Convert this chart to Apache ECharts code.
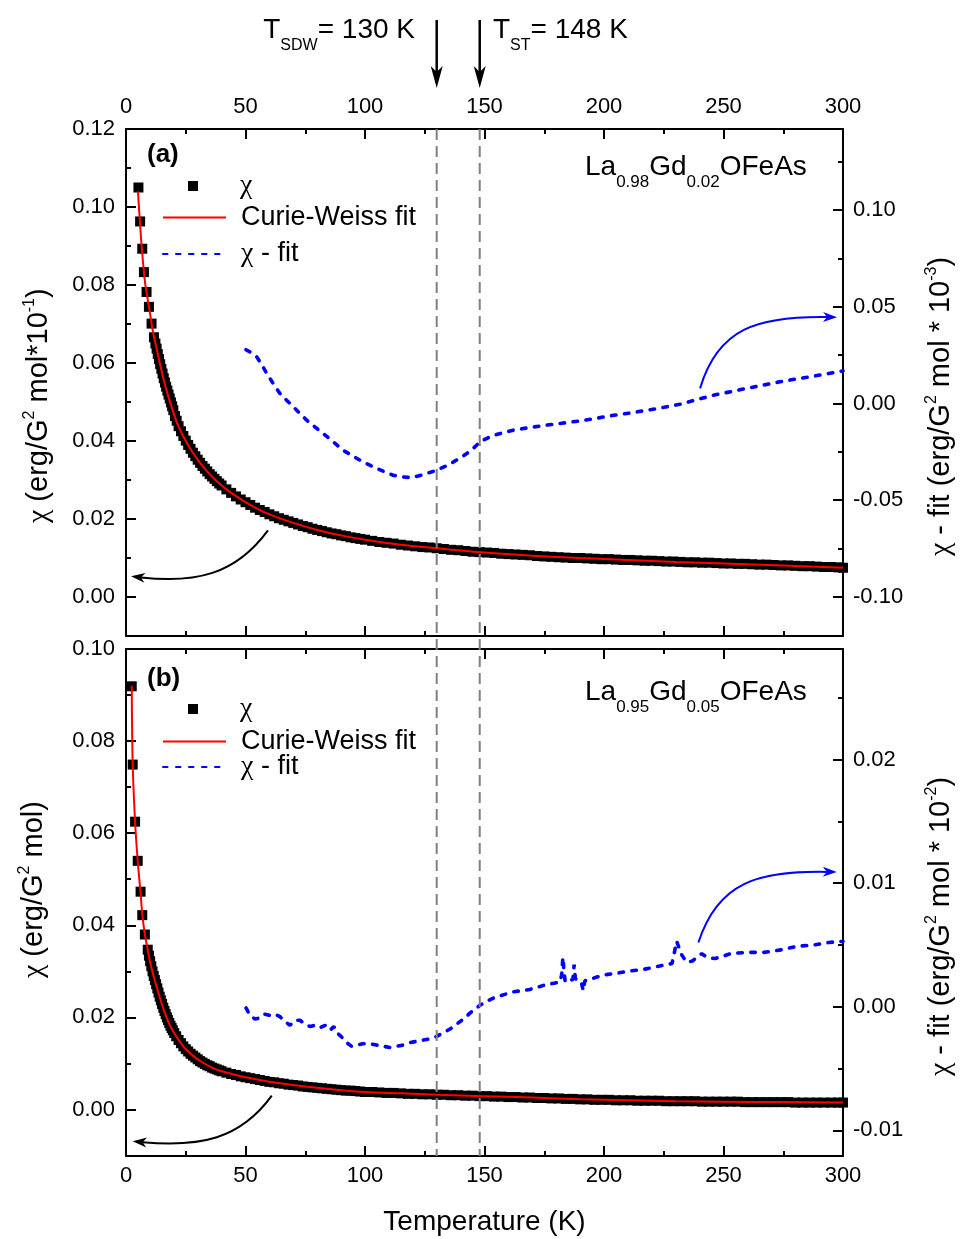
<!DOCTYPE html>
<html><head><meta charset="utf-8">
<script src="https://cdn.jsdelivr.net/npm/echarts@6/dist/echarts.min.js"></script>
<style>html,body{margin:0;padding:0;background:#fff}#c{width:961px;height:1239px}</style>
</head><body><div id="c"></div>
<script>
const FONT = '"Liberation Sans", Arial, Helvetica, sans-serif';
const CHI_FONT = '"Liberation Serif", "Times New Roman", serif';

// ---------------- data ----------------
const transitions = [130, 148];              // T_SDW, T_ST (K)
const xRange = [0, 300];

// panel (a): La0.98Gd0.02OFeAs
const chiA = [[5.2,0.1050],[5.9,0.0963],[6.8,0.0893],[7.5,0.0833],[8.6,0.0782],[9.6,0.0744],[10.7,0.0701],[11.7,0.0666],[12.3,0.0650],
[12.8,0.0637],[13.3,0.0623],[13.8,0.0610],[14.3,0.0597],[14.8,0.0585],[15.3,0.0573],[15.8,0.0561],[16.3,0.0550],[16.8,0.0539],[17.3,0.0529],
[17.8,0.0519],[18.3,0.0509],[18.8,0.0499],[19.3,0.0489],[19.8,0.0479],[20.5,0.0464],[21.2,0.0452],[22,0.0438],[23,0.0425],[24,0.0413],
[25,0.0401],[26,0.0390],[27,0.0380],[28,0.0370],[29,0.0361],[30,0.0352],[31,0.0344],[32,0.0336],[33,0.0329],[34,0.0322],[35,0.0315],
[36,0.0309],[37,0.0303],[38,0.0297],[39,0.0291],[40,0.0286],[42,0.0276],[44,0.0267],[46,0.0258],[48,0.0250],[50,0.0243],[52,0.0236],
[54,0.0229],[56,0.0223],[58,0.0218],[60,0.0212],[62,0.0207],[64,0.0202],[66,0.0198],[68,0.0194],[70,0.0190],[72,0.0186],[74,0.0182],
[76,0.0179],[78,0.0175],[80,0.0172],[82,0.0169],[84,0.0166],[86,0.0163],[88,0.0161],[90,0.0158],[92,0.0156],[94,0.0153],[96,0.0151],
[98,0.0149],[100,0.0147],[103,0.0144],[106,0.0141],[109,0.0139],[112,0.0137],[115,0.0134],[118,0.0132],[121,0.0130],[124,0.0128],
[127,0.0127],[130,0.0125],[133,0.0123],[136,0.0121],[139,0.0120],[142,0.0118],[145,0.0116],[148,0.0115],[151,0.0114],[154,0.0113],
[157,0.0111],[160,0.0110],[163,0.0109],[166,0.0108],[169,0.0107],[172,0.0105],[175,0.0104],[178,0.0103],[181,0.0102],[184,0.0101],
[187,0.0100],[190,0.0100],[193,0.0099],[196,0.0098],[199,0.0097],[202,0.0097],[205,0.0096],[208,0.0095],[211,0.0095],[214,0.0094],
[217,0.0093],[220,0.0093],[223,0.0092],[226,0.0091],[229,0.0091],[232,0.0090],[235,0.0089],[238,0.0089],[241,0.0088],[244,0.0088],
[247,0.0087],[250,0.0086],[253,0.0086],[256,0.0085],[259,0.0085],[262,0.0084],[265,0.0083],[268,0.0083],[271,0.0082],[274,0.0081],
[277,0.0081],[280,0.0080],[283,0.0079],[286,0.0079],[289,0.0078],[292,0.0077],[295,0.0077],[298,0.0076],[300,0.0075]];

const fitA = [[5.0,0.1040],[6,0.0945],[7,0.0866],[8,0.0805],[9,0.0766],[10,0.0729],[11,0.0690],[12,0.0659],[13,0.0632],[14,0.0603],
[15,0.0577],[16,0.0551],[18,0.0508],[20,0.0470],[22,0.0437],[25,0.0400],[28,0.0370],[31,0.0344],[35,0.0315],[40,0.0286],[45,0.0263],
[50,0.0243],[55,0.0226],[60,0.0212],[70,0.0190],[80,0.0172],[90,0.0158],[100,0.0147],[115,0.0134],[130,0.0125],[150,0.0114],
[170,0.0106],[190,0.0100],[210,0.0095],[230,0.0090],[250,0.0086],[275,0.0081],[300,0.0075]];

const diffA = [[50.2,0.0278],[52.5,0.0262],[54.7,0.0241],[56.8,0.0200],[58.9,0.0155],[61.5,0.0105],[64.4,0.0052],[67.2,0.0017],
[70,-0.0017],[72.8,-0.0052],[75.6,-0.0086],[79,-0.0121],[82.5,-0.0155],[86.7,-0.0198],[90.9,-0.0242],[94.4,-0.0268],[97.9,-0.0293],
[100.7,-0.0311],[103.5,-0.0328],[107.6,-0.0350],[111.8,-0.0371],[115.3,-0.0379],[118.8,-0.0383],[122.3,-0.0375],[125.8,-0.0362],
[130,-0.0345],[133.5,-0.0325],[137,-0.0302],[139.8,-0.0282],[142.6,-0.0259],[145.4,-0.0231],[148.1,-0.0199],[151,-0.0180],
[155,-0.0160],[162,-0.0138],[169,-0.0124],[176,-0.0112],[183,-0.0101],[190,-0.0090],[197,-0.0076],[204,-0.0061],[211,-0.0049],
[218,-0.0035],[225,-0.0020],[231.8,-0.0004],[238.7,0.0019],[245.7,0.0043],[252.7,0.0060],[259.7,0.0078],[266.6,0.0095],
[273.6,0.0112],[280.6,0.0127],[287.6,0.0141],[294,0.0155],[300,0.0169]];

// panel (b): La0.95Gd0.05OFeAs
const chiB = [[2.4,0.0919],[2.8,0.0749],[3.8,0.0625],[4.9,0.0540],[6.1,0.0473],[6.8,0.0422],[7.9,0.0380],[9.1,0.0347],[9.6,0.0334],
[10.1,0.0322],[10.6,0.0311],[11.1,0.0300],[11.6,0.0290],[12.1,0.0281],[12.6,0.0272],[13.1,0.0263],[13.6,0.0254],[14.1,0.0245],
[14.6,0.0237],[15.1,0.0229],[15.6,0.0221],[16.1,0.0214],[16.6,0.0207],[17.1,0.0200],[17.6,0.0194],[18.1,0.0188],[18.6,0.0182],
[19.1,0.0177],[19.6,0.0172],[20.2,0.0166],[21,0.0159],[22,0.0151],[23,0.0144],[24,0.0137],[25,0.0131],[26,0.0126],[27,0.0121],
[28,0.0117],[29,0.0113],[30,0.0109],[31,0.0105],[32,0.0102],[33,0.0099],[34,0.0096],[35,0.0094],[36,0.0091],[37,0.0089],[38,0.0087],
[39,0.0085],[40,0.0083],[42,0.0080],[44,0.0077],[46,0.0075],[48,0.0072],[50,0.0070],[52,0.0068],[54,0.0066],[56,0.0064],[58,0.0062],
[60,0.0060],[62,0.0059],[64,0.0057],[66,0.0056],[68,0.0054],[70,0.0053],[72,0.0052],[74,0.0050],[76,0.0049],[78,0.0048],[80,0.0047],
[82,0.0046],[84,0.0045],[86,0.0044],[88,0.0043],[90,0.0042],[92,0.0041],[94,0.0041],[96,0.0040],[98,0.0039],[100,0.0038],[103,0.0038],
[106,0.0037],[109,0.0036],[112,0.0036],[115,0.0035],[118,0.0034],[121,0.0034],[124,0.0033],[127,0.0033],[130,0.0032],[133,0.0032],
[136,0.0031],[139,0.0031],[142,0.0030],[145,0.0030],[148,0.0029],[151,0.0029],[154,0.0028],[157,0.0028],[160,0.0027],[163,0.0027],
[166,0.0026],[169,0.0026],[172,0.0025],[175,0.0025],[178,0.0024],[181,0.0024],[184,0.0023],[187,0.0023],[190,0.0022],[193,0.0022],
[196,0.0021],[199,0.0021],[202,0.0021],[205,0.0020],[208,0.0020],[211,0.0020],[214,0.0019],[217,0.0019],[220,0.0019],[223,0.0019],
[226,0.0018],[229,0.0018],[232,0.0018],[235,0.0018],[238,0.0018],[241,0.0017],[244,0.0017],[247,0.0017],[250,0.0017],[253,0.0017],
[256,0.0017],[259,0.0016],[262,0.0016],[265,0.0016],[268,0.0016],[271,0.0016],[274,0.0016],[277,0.0016],[280,0.0015],[283,0.0015],
[286,0.0015],[289,0.0015],[292,0.0015],[295,0.0015],[298,0.0015],[300,0.0015]];

const fitB = [[2.4,0.0920],[2.8,0.0749],[3.8,0.0625],[4.9,0.0540],[6.1,0.0470],[6.8,0.0425],[7.9,0.0380],[9.1,0.0347],[10,0.0322],
[12,0.0281],[14,0.0246],[16,0.0213],[18,0.0187],[20,0.0167],[24,0.0137],[28,0.0117],[32,0.0102],[36,0.0091],[40,0.0083],[45,0.0076],
[50,0.0070],[60,0.0060],[70,0.0053],[80,0.0047],[90,0.0042],[100,0.0038],[115,0.0035],[130,0.0032],[150,0.0029],[170,0.0026],
[190,0.0022],[210,0.0020],[230,0.0018],[250,0.0017],[275,0.0016],[300,0.0015]];

const diffB = [[50.2,-0.0001],[51.9,-0.0007],[54,-0.0010],[56,-0.0009],[58,-0.0006],[60.2,-0.0007],[62.3,-0.0006],[64.4,-0.0008],
[66.5,-0.0012],[68.6,-0.0015],[70.7,-0.0011],[72.8,-0.0011],[74.9,-0.0014],[77,-0.0016],[79.1,-0.0015],[81.2,-0.0017],[83.3,-0.0015],
[85.4,-0.0019],[87,-0.0016],[88.2,-0.0021],[90,-0.0024],[92.3,-0.0029],[94.4,-0.0032],[96.5,-0.0031],[99,-0.0030],[102,-0.0030],
[104.8,-0.0031],[107.7,-0.0032],[110.5,-0.0033],[113.3,-0.0032],[116,-0.0031],[118.8,-0.0029],[121.6,-0.0028],[124.4,-0.0027],
[127.2,-0.0026],[130,-0.0024],[132.8,-0.0021],[135.6,-0.0018],[138.4,-0.0014],[141.2,-0.0010],[144,-0.0005],[146.7,-0.0001],
[148,0.0001],[151.5,0.0005],[155,0.0008],[158.5,0.0010],[162,0.0012],[165.5,0.0013],[169,0.0014],[172.5,0.0016],[176,0.0018],
[179,0.0019],[181.6,0.0020],[182.3,0.0026],[182.8,0.0040],[183.3,0.0028],[183.8,0.0020],[185,0.0021],[187,0.0022],[187.5,0.0034],
[188,0.0023],[189,0.0021],[190.5,0.0020],[191.3,0.0013],[192,0.0021],[194,0.0022],[197,0.0024],[201,0.0026],[205,0.0027],
[211,0.0029],[216,0.0030],[221,0.0032],[226,0.0034],[228.5,0.0035],[230.4,0.0053],[232.5,0.0042],[234.6,0.0036],[237,0.0037],
[240.9,0.0043],[243,0.0040],[246.4,0.0039],[250,0.0041],[253,0.0043],[260,0.0044],[267,0.0044],[274,0.0046],[281,0.0049],
[288,0.0050],[294,0.0052],[300,0.0053]];

// tick values
const leftTicksA = [0, 0.02, 0.04, 0.06, 0.08, 0.10, 0.12];
const leftMinorA = [0.01, 0.03, 0.05, 0.07, 0.09, 0.11];
const rightTicksA = [-0.10, -0.05, 0, 0.05, 0.10];
const rightMinorA = [-0.075, -0.025, 0.025, 0.075, 0.125];
const leftTicksB = [0, 0.02, 0.04, 0.06, 0.08, 0.10];
const leftMinorB = [0.01, 0.03, 0.05, 0.07, 0.09];
const rightTicksB = [-0.01, 0, 0.01, 0.02];
const rightMinorB = [-0.005, 0.005, 0.015, 0.025];

// annotation arrows in data coordinates [T, value]
const curveLeftA  = [[59.4,0.0171],[45.6,0.0056],[28.9,0.0035],[2.1,0.0053]];
const curveRightA = [[240.2,0.0078],[247.7,0.0390],[264.4,0.0452],[297.5,0.0446]];
const curveLeftB  = [[61.0,0.0030],[47.7,-0.0065],[31.0,-0.0082],[2.8,-0.0069]];
const curveRightB = [[239.5,0.0052],[247.7,0.0101],[264.4,0.0110],[297.4,0.0109]];

// ---------------- layout ----------------
const G = {left:126, width:717, topA:129, topB:649, height:507};

const chart = echarts.init(document.getElementById('c'), null, {renderer:'canvas'});
const black = '#000';
const tickStyle = {color:black, width:2};
const blueDash = {color:'#0000ff', width:3.6, type:[4.5,8.5], cap:'round'};

function xAx(grid, pos, labels, extra) {
  return Object.assign({
    type:'value', gridIndex:grid, position:pos, min:xRange[0], max:xRange[1], interval:50,
    axisLine:{show:true, onZero:false, lineStyle:{color:black, width:2}},
    axisTick:{show:true, inside:true, length:10, lineStyle:tickStyle},
    minorTick:{show:true, splitNumber:2, length:5, lineStyle:tickStyle},
    axisLabel:{show:labels, fontSize:22, color:black, fontFamily:FONT, margin: pos==='top'?11:9},
    splitLine:{show:false}, minorSplitLine:{show:false}
  }, extra||{});
}
function yAx(grid, pos, min, max, ticks, len, main) {
  return {
    type:'value', gridIndex:grid, position:pos, min:min, max:max,
    axisLine:{show:main, onZero:false, lineStyle:{color:black, width:2}},
    axisTick:{show:true, inside:true, length:len, lineStyle:tickStyle, customValues:ticks},
    axisLabel:{show:main, customValues:ticks, fontSize:22, color:black, fontFamily:FONT, margin: pos==='left'?11:10,
      formatter:(v)=>Number(v).toFixed(2)},
    splitLine:{show:false}
  };
}

const option = {
  animation:false,
  backgroundColor:'#fff',
  textStyle:{fontFamily:FONT},
  grid:[
    {left:G.left, top:G.topA, width:G.width, height:G.height, outerBoundsMode:'none'},
    {left:G.left, top:G.topB, width:G.width, height:G.height, outerBoundsMode:'none'}
  ],
  xAxis:[
    xAx(0,'top',true),
    xAx(0,'bottom',false),
    xAx(1,'top',false),
    xAx(1,'bottom',true,{name:'Temperature (K)', nameLocation:'middle', nameGap:52,
      nameTextStyle:{fontSize:28, color:black, fontFamily:FONT}})
  ],
  yAxis:[
    yAx(0,'left',-0.01,0.12,leftTicksA,10,true),
    yAx(0,'right',-0.1202,0.1419,rightTicksA,10,true),
    yAx(0,'left',-0.01,0.12,leftMinorA,5,false),
    yAx(0,'right',-0.1202,0.1419,rightMinorA,5,false),
    yAx(1,'left',-0.0101,0.10,leftTicksB,10,true),
    yAx(1,'right',-0.01208,0.02895,rightTicksB,10,true),
    yAx(1,'left',-0.0101,0.10,leftMinorB,5,false),
    yAx(1,'right',-0.01208,0.02895,rightMinorB,5,false)
  ],
  legend:[],
  series:[
    {type:'scatter', name:'χ', xAxisIndex:0, yAxisIndex:0, data:chiA, symbol:'rect', symbolSize:10,
      itemStyle:{color:black, opacity:1}, z:2, silent:true},
    {type:'line', name:'Curie-Weiss fit', xAxisIndex:0, yAxisIndex:0, data:fitA, smooth:0.3, symbol:'none', showSymbol:false,
      lineStyle:{color:'#ff0000', width:2}, itemStyle:{color:'#ff0000'}, z:3, silent:true},
    {type:'line', name:'χ - fit', xAxisIndex:0, yAxisIndex:1, data:diffA, symbol:'none', showSymbol:false,
      lineStyle:blueDash, itemStyle:{color:'#0000ff'}, z:4, silent:true},
    {type:'scatter', name:'χ', xAxisIndex:3, yAxisIndex:4, data:chiB, symbol:'rect', symbolSize:10,
      itemStyle:{color:black, opacity:1}, z:2, silent:true},
    {type:'line', name:'Curie-Weiss fit', xAxisIndex:3, yAxisIndex:4, data:fitB, smooth:0.3, symbol:'none', showSymbol:false,
      lineStyle:{color:'#ff0000', width:2}, itemStyle:{color:'#ff0000'}, z:3, silent:true},
    {type:'line', name:'χ - fit', xAxisIndex:3, yAxisIndex:5, data:diffB, symbol:'none', showSymbol:false,
      lineStyle:blueDash, itemStyle:{color:'#0000ff'}, z:4, silent:true}
  ]
};

// one legend entry per row, so each row can sit where the original puts it
const legendRows = [['χ',185,true],['Curie-Weiss fit',217,false],['χ - fit',253,false],
                    ['χ',708,true],['Curie-Weiss fit',741,false],['χ - fit',766,false]];
const chiRich = {c:{fontFamily:CHI_FONT, fontSize:28, color:black}, t:{fontFamily:FONT, fontSize:27, color:black}};
legendRows.forEach(([name, cy, isSym]) => {
  option.legend.push({
    left: isSym ? 188 : 162, top:cy-13, padding:0,
    itemWidth: isSym ? 10 : 63, itemHeight:10, selectedMode:false,
    itemStyle: isSym ? {opacity:1} : {opacity:0},
    data:[isSym ? {name:name, icon:'rect'} : {name:name}],
    formatter:(nm)=> nm.split('χ').map(s => s ? '{t|'+s+'}' : '').join('{c|χ}'),
    textStyle:{fontSize:27, color:black, fontFamily:FONT, padding:[0,0,0, isSym ? 37 : 10], rich:chiRich}});
});

chart.setOption(option);

// ---------------- annotations (positions from the chart's own scales) ----------------
const xPx = (xi, t) => chart.convertToPixel({xAxisIndex:xi}, t);
const yPx = (yi, v) => chart.convertToPixel({yAxisIndex:yi}, v);
const gr = [];

function curvedArrow(pts, xi, yi, color) {
  const p = pts.map(([t,v]) => [xPx(xi,t), yPx(yi,v)]);
  const [p0,p1,p2,p3] = p;
  let dx = p3[0]-p2[0], dy = p3[1]-p2[1];
  const d = Math.hypot(dx,dy); dx/=d; dy/=d;
  const nx = -dy, ny = dx, L = 14, W = 5;
  const back = [p3[0]-dx*(L-4), p3[1]-dy*(L-4)];
  gr.push({type:'bezierCurve', silent:true, z:20,
    shape:{x1:p0[0], y1:p0[1], cpx1:p1[0], cpy1:p1[1], cpx2:p2[0], cpy2:p2[1], x2:back[0], y2:back[1]},
    style:{stroke:color, lineWidth:2, fill:null}});
  gr.push({type:'polygon', silent:true, z:20,
    shape:{points:[p3, [p3[0]-dx*L+nx*W, p3[1]-dy*L+ny*W], back, [p3[0]-dx*L-nx*W, p3[1]-dy*L-ny*W]]},
    style:{fill:color}});
}
curvedArrow(curveLeftA, 0, 0, '#000');
curvedArrow(curveRightA, 0, 1, '#0000ff');
curvedArrow(curveLeftB, 3, 4, '#000');
curvedArrow(curveRightB, 3, 5, '#0000ff');

// dashed transition lines through both panels + arrows on top
transitions.forEach(t => {
  const x = xPx(0, t);
  gr.push({type:'line', silent:true, z:15, shape:{x1:x, y1:G.topA, x2:x, y2:G.topB+G.height},
    style:{stroke:'#808080', lineWidth:2, lineDash:[11,6]}});
  gr.push({type:'line', silent:true, z:20, shape:{x1:x, y1:20, x2:x, y2:74},
    style:{stroke:'#000', lineWidth:2.5}});
  gr.push({type:'polygon', silent:true, z:20, shape:{points:[[x,88],[x-6,66],[x,72],[x+6,66]]}, style:{fill:'#000'}});
});

const sub = {fontSize:16, fontFamily:FONT, fill:'#000', padding:[31,0,0,0], verticalAlign:'middle'};
const subF = {fontSize:17, fontFamily:FONT, fill:'#000', padding:[30,0,0,0], verticalAlign:'middle'};
const sup = {fontSize:16, fontFamily:FONT, fill:'#000', padding:[0,0,18,0], verticalAlign:'middle'};
const n28 = {fontSize:28, fontFamily:FONT, fill:'#000', verticalAlign:'middle'};
const n29 = {fontSize:29, fontFamily:FONT, fill:'#000', verticalAlign:'middle'};
const chi29 = {fontSize:30, fontFamily:CHI_FONT, fill:'#000', verticalAlign:'middle'};

function txt(x, y, text, rich, align, rot) {
  gr.push({type:'text', silent:true, z:30, x:x, y:y, rotation:rot||0,
    style:{text:text, rich:rich, align:align, verticalAlign:'middle', fontSize:28, fontFamily:FONT, fill:'#000'}});
}
txt(415, 30, '{n|T}{s|SDW}{n|= 130 K}', {n:n28, s:sub}, 'right');
txt(493, 30, '{n|T}{s|ST}{n|= 148 K}', {n:n28, s:sub}, 'left');
txt(585, 167, '{n|La}{s|0.98}{n|Gd}{s|0.02}{n|OFeAs}', {n:n28, s:subF}, 'left');
txt(585, 692, '{n|La}{s|0.95}{n|Gd}{s|0.05}{n|OFeAs}', {n:n28, s:subF}, 'left');
gr.push({type:'text', silent:true, z:30, x:147, y:155, style:{text:'(a)', font:'bold 26px '+FONT, fill:'#000', align:'left', verticalAlign:'middle'}});
gr.push({type:'text', silent:true, z:30, x:147, y:679, style:{text:'(b)', font:'bold 26px '+FONT, fill:'#000', align:'left', verticalAlign:'middle'}});

// axis titles (rotated, reading bottom to top)
const R = Math.PI/2;
const tr = {n:n29, u:sup, c:chi29};
txt(39, 523, '{c|χ}{n| (erg/G}{u|2}{n| mol*10}{u|-1}{n|)}', tr, 'left', R);
txt(34, 978, '{c|χ}{n| (erg/G}{u|2}{n| mol)}', tr, 'left', R);
txt(941, 556, '{c|χ}{n| - fit (erg/G}{u|2}{n| mol * 10}{u|-3}{n|)}', tr, 'left', R);
txt(941, 1076, '{c|χ}{n| - fit (erg/G}{u|2}{n| mol * 10}{u|-2}{n|)}', tr, 'left', R);

chart.setOption({graphic:{elements:gr}});
</script></body></html>
